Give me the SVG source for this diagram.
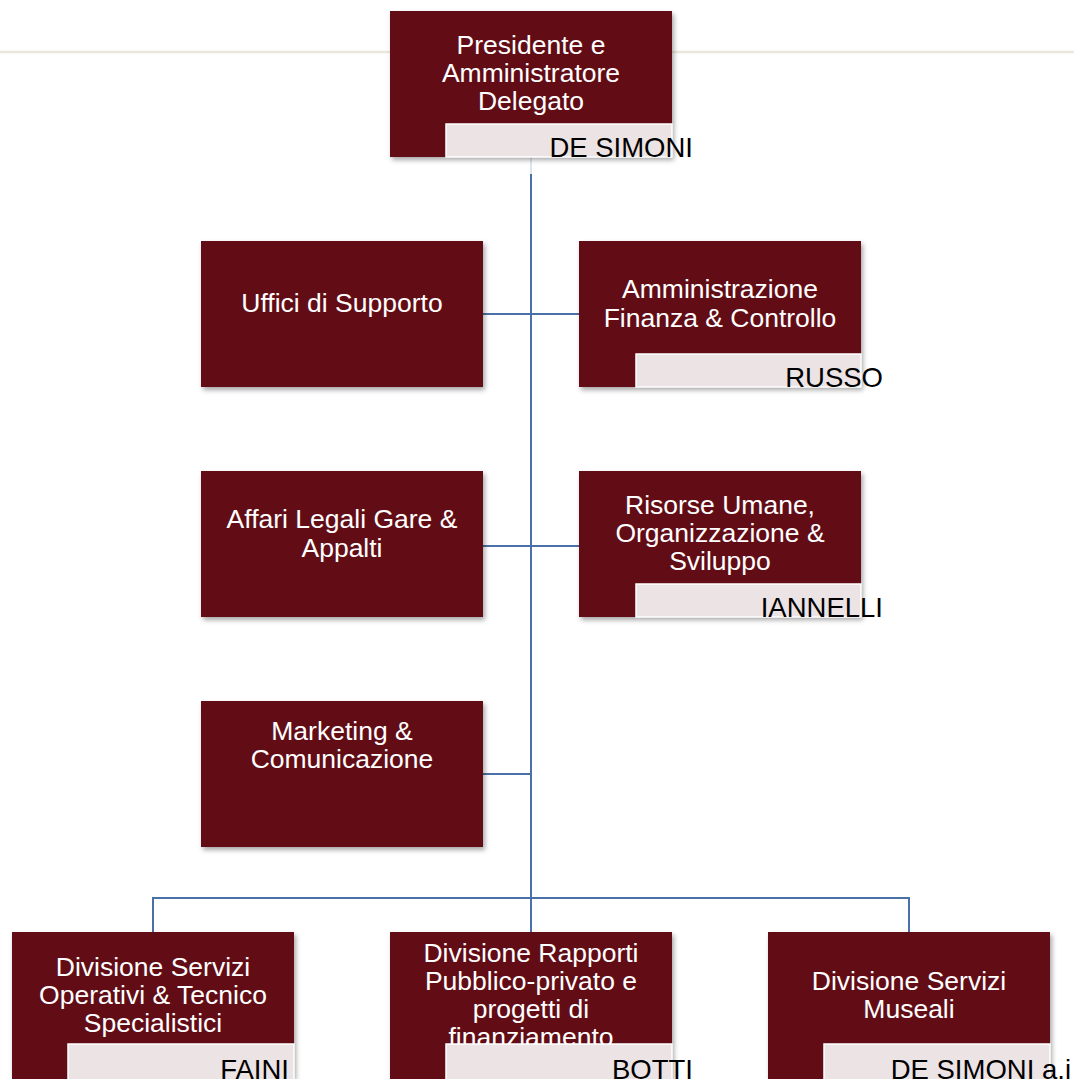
<svg xmlns="http://www.w3.org/2000/svg" width="1074" height="1079" viewBox="0 0 1074 1079">
<defs>
<filter id="sh" x="-10%" y="-10%" width="125%" height="130%">
<feDropShadow dx="2" dy="3" stdDeviation="2.5" flood-color="#000" flood-opacity="0.35"/>
</filter>
<style>
.box{fill:#620f15;filter:url(#sh)}
.lbl{fill:#ece3e4;stroke:#ffffff;stroke-width:1.5}
.t{font-family:"Liberation Sans",Arial,sans-serif;font-size:26.5px;fill:#ffffff;text-anchor:middle}
.n{font-family:"Liberation Sans",Arial,sans-serif;font-size:27.5px;fill:#000000;text-anchor:end}
.c{fill:none;stroke:#4a70a8;stroke-width:2}
</style>
</defs>
<rect width="1074" height="1079" fill="#ffffff"/>
<line x1="0" y1="52" x2="1074" y2="52" stroke="#ebe7dc" stroke-width="2.5"/>
<g id="connectors">
<line x1="531" y1="157" x2="531" y2="174" stroke="#dde4ee" stroke-width="2"/>
<path class="c" d="M531 174 V898"/>
<path class="c" d="M483 314 H579"/>
<path class="c" d="M483 546 H579"/>
<path class="c" d="M483 774 H531"/>
<path class="c" d="M153 932 V898 H909 V932"/>
<path class="c" d="M531 898 V932"/>
</g>
<g id="n-presidente">
<rect class="box" x="390" y="11" width="282" height="146"/>
<text class="t" x="531" y="54">Presidente e</text>
<text class="t" x="531" y="82">Amministratore</text>
<text class="t" x="531" y="110">Delegato</text>
<rect class="lbl" x="446" y="124" width="226" height="33"/>
<text class="n" x="693" y="157">DE SIMONI</text>
</g>
<g id="n-uffici">
<rect class="box" x="201" y="241" width="282" height="146"/>
<text class="t" x="342" y="312">Uffici di Supporto</text>
</g>
<g id="n-amministrazione">
<rect class="box" x="579" y="241" width="282" height="146"/>
<text class="t" x="720" y="298">Amministrazione</text>
<text class="t" x="720" y="327">Finanza &amp; Controllo</text>
<rect class="lbl" x="636" y="354" width="225" height="33"/>
<text class="n" x="883" y="387">RUSSO</text>
</g>
<g id="n-affari">
<rect class="box" x="201" y="471" width="282" height="146"/>
<text class="t" x="342" y="528">Affari Legali Gare &amp;</text>
<text class="t" x="342" y="557">Appalti</text>
</g>
<g id="n-risorse">
<rect class="box" x="579" y="471" width="282" height="146"/>
<text class="t" x="720" y="514">Risorse Umane,</text>
<text class="t" x="720" y="542">Organizzazione &amp;</text>
<text class="t" x="720" y="570">Sviluppo</text>
<rect class="lbl" x="636" y="584" width="225" height="33"/>
<text class="n" x="883" y="617">IANNELLI</text>
</g>
<g id="n-marketing">
<rect class="box" x="201" y="701" width="282" height="146"/>
<text class="t" x="342" y="740">Marketing &amp;</text>
<text class="t" x="342" y="768">Comunicazione</text>
</g>
<g id="n-div-servizi">
<rect class="box" x="12" y="932" width="282" height="147"/>
<text class="t" x="153" y="976">Divisione Servizi</text>
<text class="t" x="153" y="1004">Operativi &amp; Tecnico</text>
<text class="t" x="153" y="1032">Specialistici</text>
<rect class="lbl" x="68" y="1044" width="226" height="36"/>
<text class="n" x="289" y="1079">FAINI</text>
</g>
<g id="n-div-rapporti">
<rect class="box" x="390" y="932" width="282" height="147"/>
<text class="t" x="531" y="962">Divisione Rapporti</text>
<text class="t" x="531" y="990">Pubblico-privato e</text>
<text class="t" x="531" y="1018">progetti di</text>
<text class="t" x="531" y="1046">finanziamento</text>
<rect class="lbl" x="446" y="1044" width="226" height="36"/>
<text class="n" x="693" y="1079">BOTTI</text>
</g>
<g id="n-div-museali">
<rect class="box" x="768" y="932" width="282" height="147"/>
<text class="t" x="909" y="990">Divisione Servizi</text>
<text class="t" x="909" y="1018">Museali</text>
<rect class="lbl" x="824" y="1044" width="226" height="36"/>
<text class="n" x="1071" y="1079">DE SIMONI a.i</text>
</g>
</svg>
